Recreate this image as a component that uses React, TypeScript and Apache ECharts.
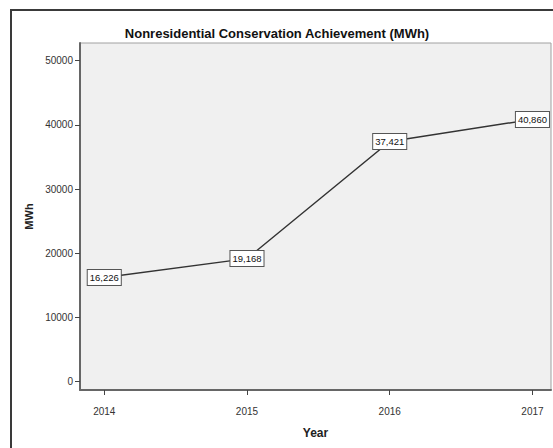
import React, { useEffect, useRef } from "react";
import * as echarts from "echarts";

const years = [2014, 2015, 2016, 2017];
const values = [16226, 19168, 37421, 40860];
const yTicks = [0, 10000, 20000, 30000, 40000, 50000];
const xTicks = [2014, 2015, 2016, 2017];
const title = "Nonresidential Conservation Achievement (MWh)";

export default function App() {
  const ref = useRef<HTMLDivElement>(null);
  useEffect(() => {
    if (!ref.current) return;
    const chart = echarts.init(ref.current, undefined, { renderer: "svg" });
    const data = years.map((y, i) => [y, values[i]]);
    chart.setOption({
      animation: false,
      backgroundColor: "#ffffff",
      textStyle: { fontFamily: "Liberation Sans, Arial, sans-serif" },
      graphic: [
        {
          type: "rect",
          shape: { x: 11, y: 10, width: 560, height: 460 },
          style: { fill: "none", stroke: "#3a3a3a", lineWidth: 2 },
          silent: true,
        },
      ],
      title: {
        text: title,
        left: 272,
        textAlign: "center",
        top: 22,
        textStyle: { fontSize: 13, fontWeight: "bold", color: "#111" },
      },
      grid: {
        left: 80,
        top: 43,
        right: 2,
        bottom: 58,
        show: true,
        backgroundColor: "#f0f0f0",
        borderColor: "#a0a0a0",
        borderWidth: 1,
        containLabel: false,
      },
      xAxis: {
        type: "value",
        min: 2013.83,
        max: 2017.13,
        name: "Year",
        nameLocation: "middle",
        nameGap: 37,
        nameTextStyle: { fontSize: 12, fontWeight: "bold", color: "#222" },
        axisLine: { show: true, onZero: false, lineStyle: { color: "#666", width: 2 } },
        axisTick: { show: true, customValues: xTicks, length: 5, lineStyle: { color: "#444" } },
        axisLabel: {
          customValues: xTicks,
          fontSize: 10,
          color: "#333",
          margin: 16,
          formatter: (v: number) => String(v),
        },
        splitLine: { show: false },
      },
      yAxis: {
        type: "value",
        min: -1300,
        max: 52760,
        name: "MWh",
        nameLocation: "middle",
        nameGap: 41,
        nameRotate: 90,
        nameTextStyle: { fontSize: 11, fontWeight: "bold", color: "#222" },
        axisLine: { show: true, onZero: false, lineStyle: { color: "#666", width: 2 } },
        axisTick: { show: true, customValues: yTicks, length: 5, lineStyle: { color: "#444" } },
        axisLabel: {
          customValues: yTicks,
          fontSize: 10,
          color: "#333",
          margin: 7,
          formatter: (v: number) => String(v),
        },
        splitLine: { show: false },
      },
      series: [
        {
          type: "line",
          data,
          showSymbol: true,
          symbol: "rect",
          symbolSize: 2,
          itemStyle: { color: "rgba(0,0,0,0)" },
          lineStyle: { color: "#333", width: 1.5 },
          labelLayout: { hideOverlap: false },
          label: {
            show: true,
            position: "inside",
            formatter: (p: any) => Number(p.value[1]).toLocaleString("en-US"),
            fontSize: 9.5,
            color: "#111",
            opacity: 1,
            backgroundColor: "#ffffff",
            borderColor: "#555",
            borderWidth: 1,
            padding: [3, 2, 2, 2],
          },
        },
      ],
    });
    return () => chart.dispose();
  }, []);
  return (
    <div
      ref={ref}
      style={{ position: "fixed", left: 0, top: 0, width: 553, height: 448 }}
    />
  );
}
